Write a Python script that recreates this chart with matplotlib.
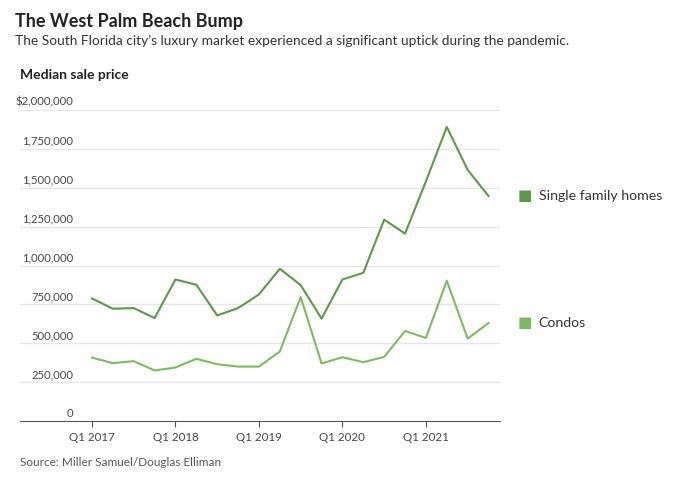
import numpy as np
import matplotlib.pyplot as plt

plt.rcParams['font.family'] = ['Lato', 'DejaVu Sans']

quarters = np.arange(20)
tick_pos = [0, 4, 8, 12, 16]
tick_labels = ['Q1 2017', 'Q1 2018', 'Q1 2019', 'Q1 2020', 'Q1 2021']

single_family = [788000, 722000, 726000, 662000, 910000, 876000, 679000, 726000,
                 814000, 979000, 874000, 658000, 910000, 953000, 1295000, 1205000,
                 1541000, 1891000, 1615000, 1447000]
condos = [408000, 372000, 385000, 325000, 344000, 400000, 365000, 350000,
          350000, 447000, 797000, 370000, 410000, 378000, 412000, 579000,
          534000, 902000, 530000, 630000]

y_ticks = [0, 250000, 500000, 750000, 1000000, 1250000, 1500000, 1750000, 2000000]
y_labels = ['0', '250,000', '500,000', '750,000', '1,000,000', '1,250,000',
            '1,500,000', '1,750,000', '$2,000,000']

c_sfh = '#5b9a48'
c_condo = '#7dbb63'

fig = plt.figure(figsize=(6.8, 4.8), dpi=100)
ax = fig.add_axes([20/680, 1 - 421/480, 480/680, 311/480])

ax.plot(quarters, single_family, color=c_sfh, lw=1.5)
ax.plot(quarters, condos, color=c_condo, lw=1.5)

ax.set_xlim(-3.45, 19.55)
ax.set_ylim(0, 2000000)

for v in y_ticks[1:]:
    ax.axhline(v, color='#e6e6e6', lw=0.9, zorder=0)
for v, lab in zip(y_ticks, y_labels):
    ax.annotate(lab, xy=(-0.9, v), xytext=(0, 1.5), textcoords='offset points',
                ha='right', va='bottom', fontsize=8.1, color='#444444')

ax.set_xticks(tick_pos)
ax.set_xticklabels(tick_labels, fontsize=8.3, color='#444444')
ax.tick_params(axis='x', length=4, color='#555555', pad=4)
ax.set_yticks([])
for s in ['top', 'right', 'left']:
    ax.spines[s].set_visible(False)
ax.spines['bottom'].set_color('#555555')

# labels at series ends
for vals, lab, c in [(single_family, 'Single family homes', c_sfh), (condos, 'Condos', c_condo)]:
    ax.annotate('\u25a0', xy=(19, vals[-1]), xytext=(21, 0), textcoords='offset points',
                ha='left', va='center', fontsize=11, color=c, annotation_clip=False)
    ax.annotate(lab, xy=(19, vals[-1]), xytext=(36, 0), textcoords='offset points',
                ha='left', va='center', fontsize=10.2, color='#333333', annotation_clip=False)

fig.text(15/680, 1 - 21/480, 'The West Palm Beach Bump', fontsize=13, fontweight='bold',
         color='#222222', va='center')
fig.text(15/680, 1 - 41/480,
         'The South Florida city\u2019s luxury market experienced a significant uptick during the pandemic.',
         fontsize=9.9, color='#333333', va='center')
fig.text(20/680, 1 - 75/480, 'Median sale price', fontsize=10, fontweight='bold',
         color='#222222', va='center')
fig.text(20/680, 1 - 463/480, 'Source: Miller Samuel/Douglas Elliman', fontsize=8.5,
         color='#555555', va='center')

fig.savefig('out.png', dpi=100, facecolor='white')
